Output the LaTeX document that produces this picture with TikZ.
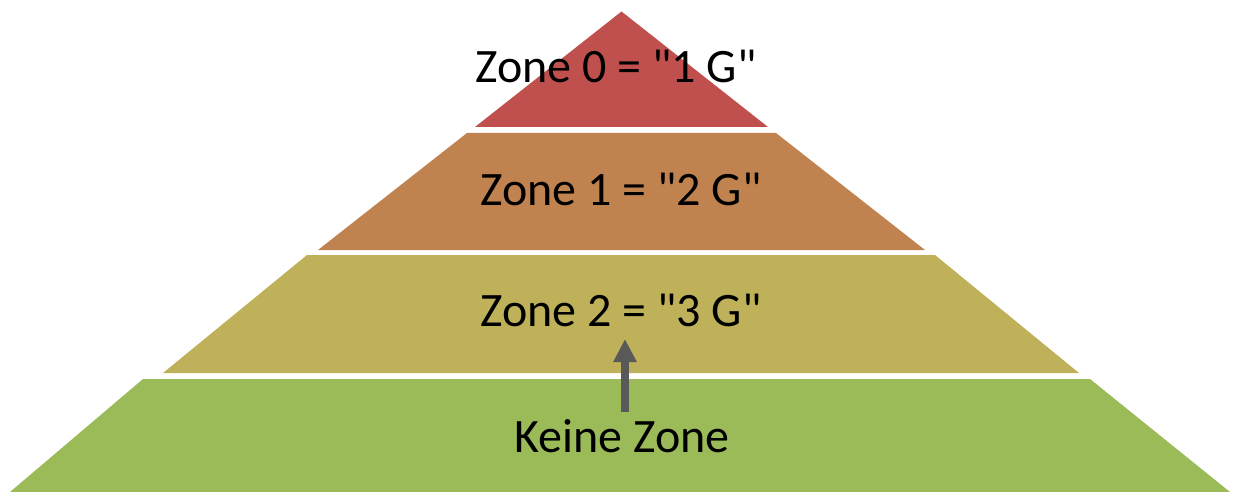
\documentclass[tikz,border=0pt]{standalone}
\usepackage{fontspec}
\setmainfont{Carlito}[Ligatures=TeXOff]
\usetikzlibrary{arrows.meta}
\definecolor{zred}{HTML}{C0504D}
\definecolor{zorange}{HTML}{C0834F}
\definecolor{zkhaki}{HTML}{BFB159}
\definecolor{zgreen}{HTML}{9BBB59}
\definecolor{zarrow}{HTML}{595959}
\tikzset{
  band/.style={draw=none},
  lbl/.style={anchor=base, inner sep=0pt, font=\fontsize{48}{56}\selectfont, text=black},
  pointer/.style={draw=zarrow, line width=8pt, -{Triangle[width=22pt,length=23pt]}}
}
\begin{document}
\begin{tikzpicture}[x=1pt,y=-1pt]
\useasboundingbox (0,0) rectangle (1236,492);
\fill[white] (0,0) rectangle (1236,492);
% bands
\fill[zred, band] (621.5,11.5) -- (768,127) -- (475,127) -- cycle;
\fill[zorange, band] (467,133) -- (776,133) -- (925,250) -- (318,250) -- cycle;
\fill[zkhaki, band] (307,255) -- (935,255) -- (1079,373) -- (163,373) -- cycle;
\fill[zgreen, band] (143,379) -- (1090,379) -- (1230,492) -- (10,492) -- cycle;
% labels
\node[lbl] (z0) at (616,83) {Zone 0 = "1 G"};
\node[lbl] (z1) at (621,205) {Zone 1 = "2 G"};
\node[lbl] (z2) at (621,326) {Zone 2 = "3 G"};
\node[lbl] (keine) at (622,452) {Keine Zone};
% arrow
\coordinate (tail) at (625,412);
\coordinate (tip) at (625,339);
\draw[pointer] (tail) -- (tip);
\end{tikzpicture}
\end{document}
